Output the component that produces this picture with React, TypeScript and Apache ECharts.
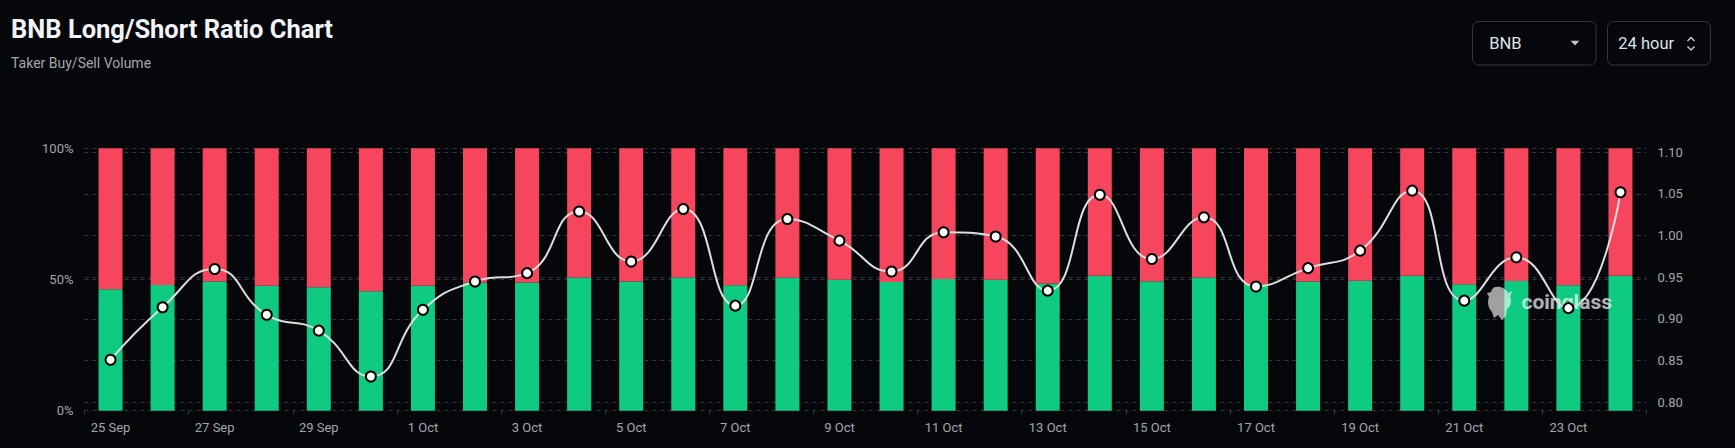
import React, { useEffect, useRef } from "react";
import * as echarts from "echarts";

const dates = [
  "25 Sep", "26 Sep", "27 Sep", "28 Sep", "29 Sep", "30 Sep",
  "1 Oct", "2 Oct", "3 Oct", "4 Oct", "5 Oct", "6 Oct", "7 Oct", "8 Oct",
  "9 Oct", "10 Oct", "11 Oct", "12 Oct", "13 Oct", "14 Oct", "15 Oct",
  "16 Oct", "17 Oct", "18 Oct", "19 Oct", "20 Oct", "21 Oct", "22 Oct",
  "23 Oct", "24 Oct",
];

const longPct = [
  46.3, 47.9, 49.2, 47.6, 47.0, 45.5, 47.6, 48.8, 48.9, 50.8,
  49.2, 50.8, 47.8, 50.7, 49.9, 49.0, 50.2, 49.9, 48.5, 51.4,
  49.3, 50.8, 48.3, 49.2, 49.5, 51.4, 48.2, 49.4, 47.8, 51.4,
];

const shortPct = longPct.map((v) => +(100 - v).toFixed(1));

const ratio = [
  0.851, 0.914, 0.960, 0.905, 0.886, 0.831, 0.911, 0.945, 0.955, 1.029,
  0.969, 1.032, 0.916, 1.020, 0.994, 0.957, 1.004, 0.999, 0.934, 1.049,
  0.972, 1.022, 0.939, 0.961, 0.982, 1.054, 0.922, 0.974, 0.913, 1.052,
];

const leftTicks = [0, 50, 100];
const rightMin = 0.8;
const rightMax = 1.1;
const rightStep = 0.05;

const BG = "#05070b";
const GRID_LINE = "#33363b";
const LABEL = "#a3a6ab";
const GREEN = "#0ecb81";
const RED = "#f6465d";

const logoPath =
  "M9 0 C14 -1 19 2 21 6 L25 4 L23 10 C25 14 24 19 20 22 L19 29 L15 33 L11 28 L7 31 L5 25 C1 21 0 15 2 10 L0 6 L4 5 C5 2 6 0 9 0 Z";

let registered = false;

export default function App() {
  const ref = useRef<HTMLDivElement>(null);

  useEffect(() => {
    if (!ref.current) return;
    if (!registered) {
      echarts.graphic.registerShape("cglogo", echarts.graphic.extendPath(logoPath, {}));
      registered = true;
    }
    const chart = echarts.init(ref.current, null, { renderer: "svg" });
    const font = "Roboto, 'Noto Sans', sans-serif";

    const option: any = {
      animation: false,
      backgroundColor: BG,
      textStyle: { fontFamily: font },
      grid: [
        { left: 84.5, right: 88.5, top: 148.3, height: 262.4 },
        { left: 84.5, right: 88.5, top: 152.3, height: 250 },
      ],
      xAxis: [
        {
          type: "category",
          gridIndex: 0,
          data: dates,
          boundaryGap: true,
          axisLine: { show: false },
          axisTick: {
            show: true,
            interval: 1,
            length: 4,
            lineStyle: { color: GRID_LINE },
          },
          axisLabel: {
            interval: 1,
            color: LABEL,
            fontSize: 13,
            margin: 10,
            fontFamily: font,
          },
          splitLine: { show: false },
        },
        {
          type: "category",
          gridIndex: 1,
          data: dates,
          boundaryGap: true,
          show: false,
        },
      ],
      yAxis: [
        {
          type: "value",
          gridIndex: 0,
          min: leftTicks[0],
          max: leftTicks[leftTicks.length - 1],
          interval: 50,
          position: "left",
          axisLine: { show: false },
          axisTick: { show: false },
          axisLabel: {
            color: LABEL,
            fontSize: 13,
            margin: 11,
            fontFamily: font,
            formatter: (v: number) => `${v}%`,
          },
          splitLine: {
            show: true,
            lineStyle: { color: GRID_LINE, type: [4, 4], width: 1 },
          },
        },
        {
          type: "value",
          gridIndex: 1,
          min: rightMin,
          max: rightMax,
          interval: rightStep,
          position: "right",
          axisLine: { show: false },
          axisTick: { show: false },
          axisLabel: {
            color: LABEL,
            fontSize: 13,
            margin: 11,
            fontFamily: font,
            formatter: (v: number) => v.toFixed(2),
          },
          splitLine: {
            show: true,
            lineStyle: { color: GRID_LINE, type: [4, 4], width: 1 },
          },
        },
      ],
      series: [
        {
          name: "Long",
          type: "bar",
          stack: "ls",
          xAxisIndex: 0,
          yAxisIndex: 0,
          data: longPct,
          barWidth: 24,
          itemStyle: { color: GREEN },
          z: 2,
        },
        {
          name: "Short",
          type: "bar",
          stack: "ls",
          xAxisIndex: 0,
          yAxisIndex: 0,
          data: shortPct,
          barWidth: 24,
          itemStyle: { color: RED },
          z: 2,
        },
        {
          name: "Ratio",
          type: "line",
          xAxisIndex: 1,
          yAxisIndex: 1,
          data: ratio,
          smooth: true,
          clip: false,
          symbol: "circle",
          symbolSize: 10,
          showSymbol: true,
          lineStyle: { color: "#dedede", width: 2 },
          itemStyle: { color: "#ffffff", borderColor: "#000000", borderWidth: 2 },
          z: 10,
        },
      ],
      graphic: [
        {
          type: "text",
          x: 11,
          y: 28.5,
          z: 20,
          style: {
            text: "BNB Long/Short Ratio Chart",
            fill: "#f2f4f7",
            font: `bold 25.5px ${font}`,
            verticalAlign: "middle",
          },
        },
        {
          type: "text",
          x: 11,
          y: 62.5,
          z: 20,
          style: {
            text: "Taker Buy/Sell Volume",
            fill: "#a3a6ab",
            font: `14px ${font}`,
            verticalAlign: "middle",
          },
        },
        {
          type: "rect",
          z: 20,
          shape: { x: 1472.5, y: 21.5, width: 123.5, height: 43.5, r: 6 },
          style: { fill: "transparent", stroke: "#34363c", lineWidth: 1 },
        },
        {
          type: "text",
          x: 1489.3,
          y: 43.5,
          z: 20,
          style: {
            text: "BNB",
            fill: "#dfe2e6",
            font: `16.5px ${font}`,
            verticalAlign: "middle",
          },
        },
        {
          type: "polygon",
          z: 20,
          shape: { points: [[1570.7, 40.8], [1579.3, 40.8], [1575, 45.5]] },
          style: { fill: "#c4c7cc" },
        },
        {
          type: "rect",
          z: 20,
          shape: { x: 1607.5, y: 21.5, width: 103, height: 43.5, r: 6 },
          style: { fill: "transparent", stroke: "#34363c", lineWidth: 1 },
        },
        {
          type: "text",
          x: 1618.3,
          y: 43.5,
          z: 20,
          style: {
            text: "24 hour",
            fill: "#dfe2e6",
            font: `16.5px ${font}`,
            verticalAlign: "middle",
          },
        },
        {
          type: "polyline",
          z: 20,
          shape: { points: [[1687.5, 41], [1691, 37.5], [1694.5, 41]] },
          style: { stroke: "#c4c7cc", lineWidth: 1.5, fill: "none" },
        },
        {
          type: "polyline",
          z: 20,
          shape: { points: [[1687.5, 46.5], [1691, 50], [1694.5, 46.5]] },
          style: { stroke: "#c4c7cc", lineWidth: 1.5, fill: "none" },
        },
        {
          type: "cglogo",
          x: 1487,
          y: 287,
          scaleX: 1,
          scaleY: 1,
          z: 5,
          style: { fill: "rgba(255,255,255,0.62)" },
        },
        {
          type: "text",
          x: 1521.5,
          y: 302,
          z: 5,
          style: {
            text: "coinglass",
            fill: "rgba(255,255,255,0.7)",
            font: `bold 21px ${font}`,
            verticalAlign: "middle",
          },
        },
      ],
    };

    chart.setOption(option);
    return () => chart.dispose();
  }, []);

  return (
    <div
      ref={ref}
      style={{
        position: "absolute",
        left: 0,
        top: 0,
        width: 1735,
        height: 448,
        background: BG,
      }}
    />
  );
}
